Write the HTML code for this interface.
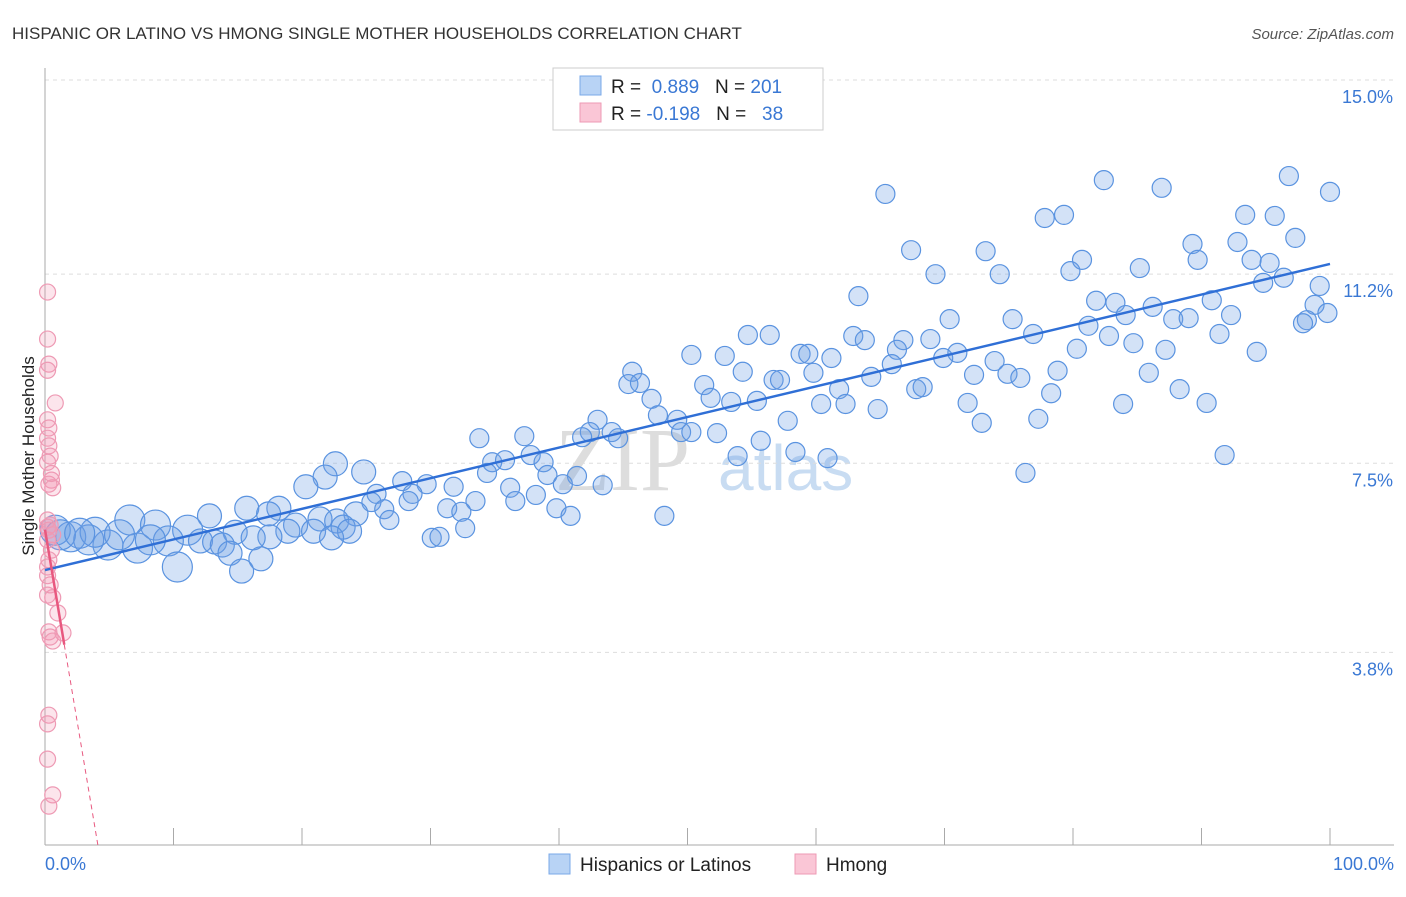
<!DOCTYPE html>
<html><head><meta charset="utf-8"><style>
body{margin:0;background:#fff;font-family:"Liberation Sans",sans-serif}
</style></head><body>
<svg id="chart" width="1406" height="892" xmlns="http://www.w3.org/2000/svg" font-family="Liberation Sans, sans-serif">
<text x="12" y="39" font-size="17" fill="#333">HISPANIC OR LATINO VS HMONG SINGLE MOTHER HOUSEHOLDS CORRELATION CHART</text>
<text x="1394" y="39" font-size="15" fill="#555" text-anchor="end" font-style="italic">Source: ZipAtlas.com</text>
<g><text x="555" y="490" font-size="90" fill="#ddd" font-family="Liberation Serif, serif">ZIP</text><text x="718" y="490" font-size="64" fill="#c8dcf2">atlas</text></g>
<g id="grid"></g>
<line x1="45" y1="68" x2="45" y2="845" stroke="#aaa"/>
<line x1="45" y1="845" x2="1394" y2="845" stroke="#aaa"/>
<g id="ticks"></g>
<text transform="translate(34,456) rotate(-90)" text-anchor="middle" font-size="17" fill="#222">Single Mother Households</text>
<text x="45" y="870" font-size="18" fill="#3a78d4">0.0%</text>
<text x="1394" y="870" font-size="18" fill="#3a78d4" text-anchor="end">100.0%</text>
<g id="pts"></g>
<g id="lines"></g>
<g>
<rect x="553" y="68" width="270" height="62" fill="#fff" stroke="#ccc"/>
<rect x="580" y="76" width="21" height="19" fill="#b8d3f5" stroke="#7aa8e8"/>
<rect x="580" y="103" width="21" height="19" fill="#fac6d6" stroke="#ee9ab4"/>
<text x="611" y="93" font-size="19" fill="#222">R = <tspan fill="#3a78d4">&#160;0.889</tspan>&#160;&#160;&#160;N = <tspan fill="#3a78d4">201</tspan></text>
<text x="611" y="120" font-size="19" fill="#222">R = <tspan fill="#3a78d4">-0.198</tspan>&#160;&#160;&#160;N = <tspan fill="#3a78d4">&#160;&#160;38</tspan></text>
</g>
<g>
<rect x="549" y="854" width="21" height="20" fill="#b8d3f5" stroke="#7aa8e8"/>
<text x="580" y="871" font-size="19" fill="#222">Hispanics or Latinos</text>
<rect x="795" y="854" width="21" height="20" fill="#fac6d6" stroke="#ee9ab4"/>
<text x="826" y="871" font-size="19" fill="#222">Hmong</text>
</g>
</svg>
<script>
const yTicks=[15.0,11.2,7.5,3.8];
const blueX=[65.4,82.4,86.9,96.8,100,77.8,79.3,93.4,95.7,67.4,73.2,89.3,92.8,97.3,69.3,74.3,79.8,80.7,85.2,89.7,93.9,95.3,96.4,94.8,99.2,63.3,81.8,83.3,86.2,90.8,98.8,70.4,75.3,84.1,87.8,89.0,92.3,98.2,99.8,97.9,54.7,56.4,62.9,66.8,63.8,68.9,76.9,81.2,82.8,91.4,84.7,87.2,80.3,50.3,52.9,58.8,59.4,61.2,66.3,71.0,69.9,73.9,94.3,45.7,54.3,59.8,65.9,72.3,74.9,75.9,78.8,85.9,45.4,46.3,51.3,56.7,57.2,64.3,67.8,68.3,61.8,78.3,88.3,47.2,51.8,53.4,55.4,60.4,62.3,64.8,71.8,83.9,90.4,43.0,47.7,49.2,57.8,72.9,77.3,42.4,44.1,44.6,49.5,50.3,52.3,41.8,33.8,37.3,55.7,58.4,53.9,60.9,91.8,37.8,34.8,35.8,38.8,34.4,76.3,22.6,21.8,24.8,39.1,41.4,43.4,40.3,27.8,29.7,20.3,31.8,28.6,36.2,25.8,33.5,36.6,38.2,25.4,28.3,15.7,18.2,26.4,31.3,39.8,17.4,24.2,12.8,32.4,40.9,48.2,26.8,21.4,22.7,19.5,23.2,32.7,6.6,8.6,11.1,14.8,18.9,20.9,23.7,17.5,30.1,30.7,16.2,22.3,12.1,13.2,13.8,9.6,7.2,4.9,3.4,2.0,0.8,1.2,3.9,5.8,2.7,14.4,16.8,10.3,15.3,8.2];
const blueY=[12.77,13.04,12.89,13.12,12.81,12.30,12.36,12.36,12.34,11.67,11.65,11.79,11.83,11.91,11.20,11.20,11.26,11.48,11.32,11.48,11.48,11.42,11.13,11.03,10.97,10.77,10.68,10.64,10.56,10.69,10.60,10.32,10.32,10.40,10.32,10.34,10.40,10.30,10.44,10.24,10.01,10.01,9.99,9.91,9.91,9.93,10.03,10.19,9.99,10.03,9.85,9.72,9.74,9.62,9.60,9.64,9.64,9.56,9.72,9.66,9.56,9.50,9.68,9.29,9.29,9.27,9.44,9.23,9.25,9.17,9.31,9.27,9.05,9.07,9.03,9.13,9.13,9.19,8.95,8.99,8.95,8.87,8.95,8.76,8.78,8.70,8.72,8.66,8.66,8.56,8.68,8.66,8.68,8.35,8.44,8.35,8.33,8.29,8.37,8.11,8.11,7.99,8.11,8.11,8.09,8.01,7.99,8.03,7.94,7.72,7.64,7.60,7.66,7.66,7.52,7.56,7.52,7.31,7.31,7.49,7.23,7.33,7.27,7.25,7.07,7.09,7.15,7.09,7.04,7.04,6.90,7.02,6.90,6.76,6.76,6.88,6.74,6.76,6.62,6.62,6.60,6.62,6.62,6.51,6.51,6.47,6.55,6.47,6.47,6.39,6.41,6.37,6.29,6.25,6.23,6.39,6.29,6.19,6.15,6.17,6.17,6.17,6.06,6.04,6.06,6.04,6.04,5.98,5.96,5.90,5.98,5.84,5.90,6.00,6.06,6.19,6.10,6.15,6.10,6.13,5.74,5.63,5.47,5.39,6.00];
const pinkX=[0.2,0.2,0.3,0.2,0.8,0.2,0.3,0.2,0.3,0.4,0.2,0.5,0.3,0.6,0.2,0.4,0.3,0.2,0.5,0.3,0.2,0.4,0.2,0.6,1.0,1.4,0.4,0.6,0.3,0.2,0.2,0.6,0.3,0.6,0.2,0.5,0.3,0.2];
const pinkY=[10.85,9.93,9.44,9.32,8.68,8.35,8.19,7.99,7.84,7.64,7.52,7.17,7.09,7.02,6.39,6.29,6.19,6.00,5.80,5.61,5.47,5.12,4.92,4.87,4.57,4.18,4.10,4.02,2.57,2.40,1.71,1.01,0.79,6.10,6.25,7.30,4.20,5.30];
const blueFit=[5.41,0.0599];
const pinkFit=[6.2,-1.5];
const NS="http://www.w3.org/2000/svg";
const X=v=>45+v*12.85, Y=v=>80+(15-v)*51.1;
function mk(t,a,p){const e=document.createElementNS(NS,t);for(const k in a)e.setAttribute(k,a[k]);document.getElementById(p).appendChild(e);return e;}
yTicks.forEach((t,i)=>{
 const l=mk('line',{x1:45,x2:1394,y1:Y(t),y2:Y(t),stroke:'#ddd','stroke-dasharray':'4,4'},'grid');
 
 
 const tx=mk('text',{x:1393,y:Y(t)+23,'font-size':18,fill:'#3a78d4','text-anchor':'end'},'grid');
 
 
 tx.textContent=t.toFixed(1)+'%';
});
for(let i=0;i<=10;i++){
 const l=mk('line',{x1:X(i*10),x2:X(i*10),y1:828,y2:845,stroke:'#aaa'},'ticks');
 
 
}
blueX.forEach((x,i)=>{
 const r=x<12?15:(x<25?12:9.5);
 const c=mk('circle',{cx:X(x),cy:Y(blueY[i]),r:r,fill:'rgba(110,160,230,0.3)',stroke:'#5a93e0','stroke-width':1.2},'pts');
 
 
});
pinkX.forEach((x,i)=>{
 const c=mk('circle',{cx:X(x),cy:Y(pinkY[i]),r:8,fill:'rgba(245,150,180,0.25)',stroke:'#ee9ab4','stroke-width':1.2},'pts');
 
 
});
const bl=mk('line',{x1:X(0),y1:Y(blueFit[0]),x2:X(100),y2:Y(blueFit[0]+blueFit[1]*100),stroke:'#2f6fd6','stroke-width':2.5},'lines');


const pl=mk('line',{x1:X(0),y1:Y(pinkFit[0]),x2:X(1.5),y2:Y(pinkFit[0]+pinkFit[1]*1.5),stroke:'#e8587f','stroke-width':2.5},'lines');


const x0=-pinkFit[0]/pinkFit[1];
const pd=mk('line',{x1:X(1.5),y1:Y(pinkFit[0]+pinkFit[1]*1.5),x2:X(x0),y2:Y(0),stroke:'#e8587f','stroke-width':1,'stroke-dasharray':'5,4'},'lines');


</script>
</body></html>
